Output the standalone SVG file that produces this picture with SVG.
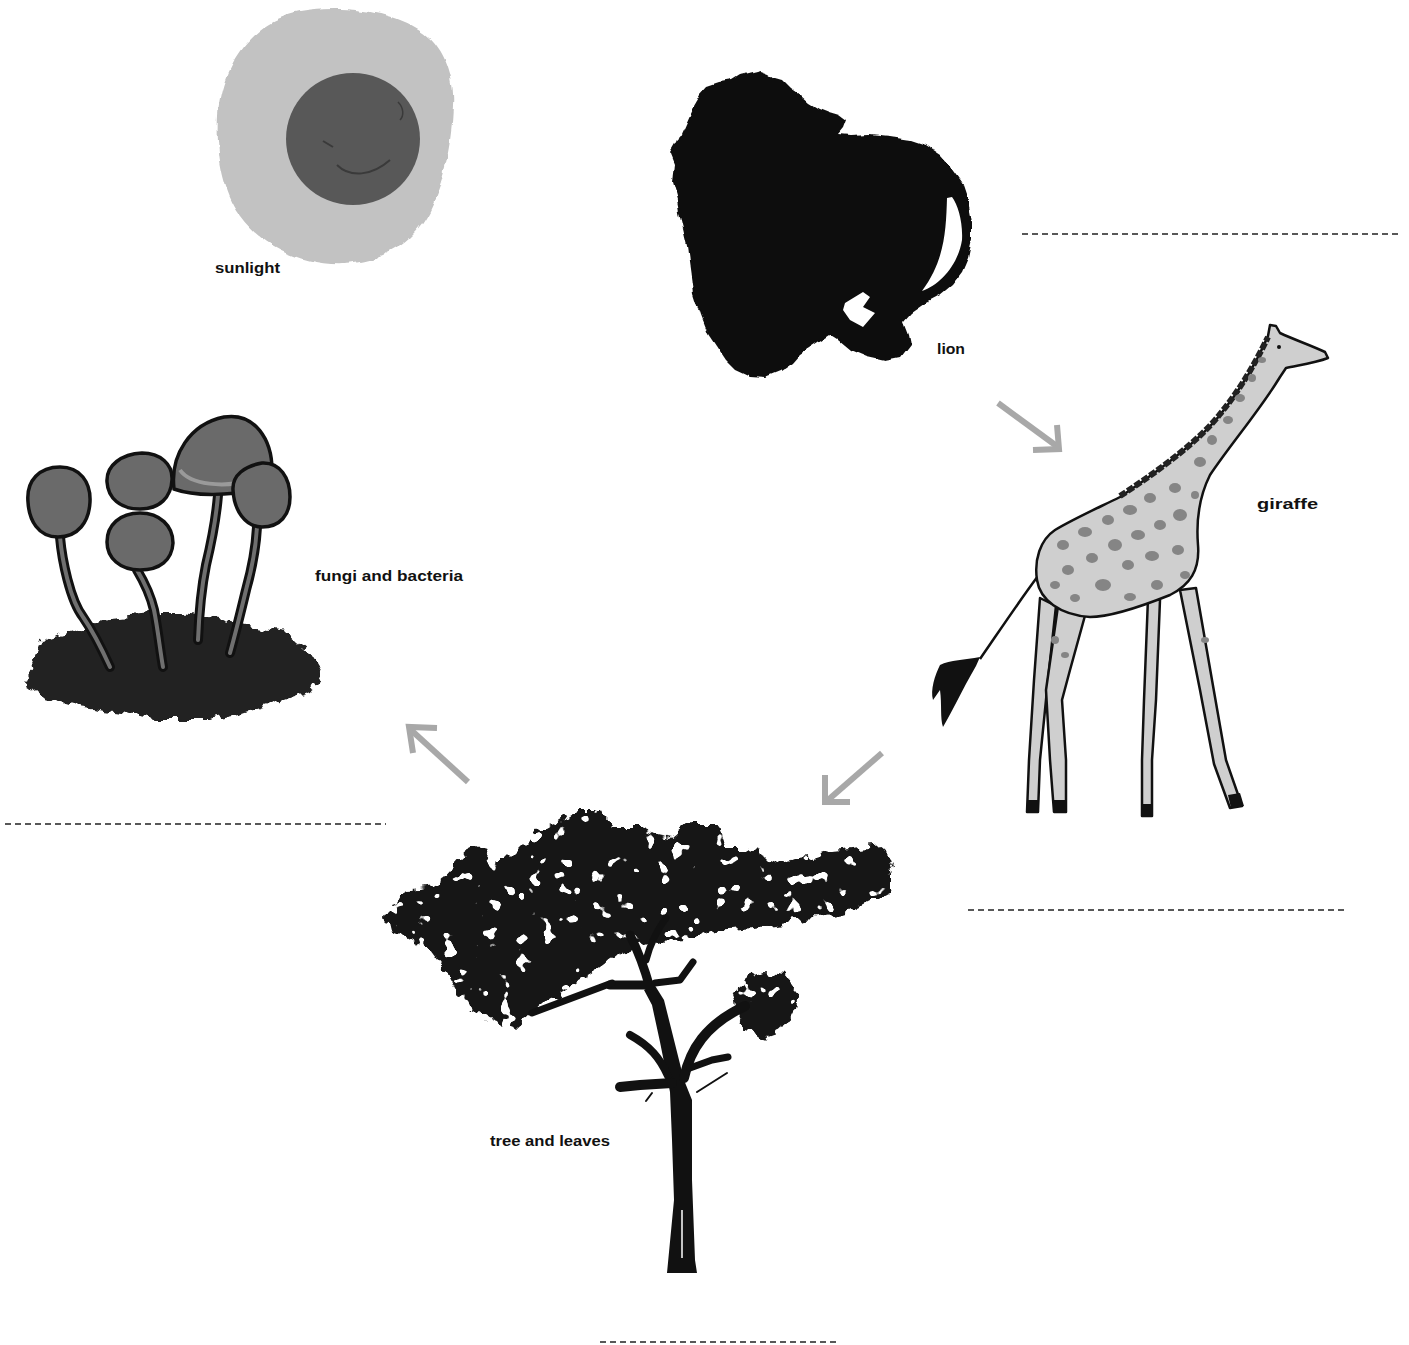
<svg xmlns="http://www.w3.org/2000/svg" width="1409" height="1345" viewBox="0 0 1409 1345">
  <style>
    .lbl { font-family: "Liberation Sans", Arial, sans-serif; font-weight: bold; font-size: 15px; fill: #111; }
    .dash { stroke: #222; stroke-width: 1.6; stroke-dasharray: 6 4; fill: none; }
    .arrow { stroke: #a8a8a8; stroke-width: 6; fill: none; stroke-linecap: butt; stroke-linejoin: miter; }
    .ink { fill: #111; }
    .cap { fill: #6a6a6a; stroke: #111; stroke-width: 3.5; }
    .stemOut { stroke: #111; stroke-width: 10; fill: none; stroke-linecap: round; }
    .stemIn { stroke: #6f6f6f; stroke-width: 4; fill: none; stroke-linecap: round; }
    .branch { stroke: #111; fill: none; stroke-linecap: round; stroke-linejoin: round; }
    .hide { fill: #cfcfcf; stroke: #111; stroke-width: 2.5; stroke-linejoin: round; }
    .spot { fill: #858585; }
  </style>
  <defs>
    <!-- ragged, leafy edge with small gaps for the foliage -->
    <filter id="leafy" x="-10%" y="-10%" width="120%" height="120%">
      <feTurbulence type="fractalNoise" baseFrequency="0.09" numOctaves="2" seed="4" result="n"/>
      <feDisplacementMap in="SourceGraphic" in2="n" scale="16" xChannelSelector="R" yChannelSelector="G" result="d"/>
      <feTurbulence type="fractalNoise" baseFrequency="0.07" numOctaves="2" seed="11" result="t"/>
      <feColorMatrix in="t" type="matrix" values="0 0 0 0 0  0 0 0 0 0  0 0 0 0 0  30 0 0 0 -19.8" result="holes"/>
      <feComposite in="d" in2="holes" operator="out"/>
    </filter>
    <filter id="ragged" x="-10%" y="-10%" width="120%" height="120%">
      <feTurbulence type="fractalNoise" baseFrequency="0.09" numOctaves="2" seed="4" result="n"/>
      <feDisplacementMap in="SourceGraphic" in2="n" scale="16" xChannelSelector="R" yChannelSelector="G"/>
    </filter>
    <filter id="rough" x="-10%" y="-10%" width="120%" height="120%">
      <feTurbulence type="fractalNoise" baseFrequency="0.05" numOctaves="2" seed="7" result="n"/>
      <feDisplacementMap in="SourceGraphic" in2="n" scale="8" xChannelSelector="R" yChannelSelector="G"/>
    </filter>
  </defs>

  <rect width="1409" height="1345" fill="#fff"/>

  <!-- answer lines -->
  <g id="blanks">
    <line class="dash" x1="1022" y1="234" x2="1400" y2="234"/>
    <line class="dash" x1="5" y1="824" x2="386" y2="824"/>
    <line class="dash" x1="968" y1="910" x2="1346" y2="910"/>
    <line class="dash" x1="600" y1="1342" x2="838" y2="1342"/>
  </g>

  <!-- sun -->
  <g id="sunlight">
    <path d="M300,12 C340,5 390,10 420,30 C445,45 455,80 453,105 C452,140 445,180 430,210 C415,240 385,262 345,264 C300,266 262,245 240,215 C222,190 216,150 218,115 C220,80 235,50 260,30 C272,20 285,15 300,12 Z" fill="#c2c2c2" filter="url(#rough)"/>
    <ellipse cx="353" cy="139" rx="67" ry="66" fill="#585858"/>
    <path d="M323,141 L333,147" stroke="#3a3a3a" stroke-width="2" fill="none"/>
    <path d="M337,165 C350,178 372,176 390,160" stroke="#3a3a3a" stroke-width="2" fill="none"/>
    <path d="M398,102 C404,108 404,116 400,120" stroke="#3a3a3a" stroke-width="1.5" fill="none"/>
    <text class="lbl" x="215" y="273" textLength="65" lengthAdjust="spacingAndGlyphs">sunlight</text>
  </g>

  <!-- lion silhouette -->
  <g id="lion">
    <path class="ink" filter="url(#rough)" d="M693,107 L700,95 L708,86 L720,82 L732,80 L740,75 L752,72 L760,70 L768,73 L775,78 L782,80 L790,88 L800,95 L808,102 L818,108 L828,112 L838,115 L846,121 L843,129 L838,135 L850,136 L870,135 L890,137 L910,140 L925,145 L940,155 L952,168 L962,182 L968,200 L972,220 L972,240 L968,258 L962,272 L952,285 L940,295 L925,303 L912,312 L903,322 L908,335 L910,345 L900,358 L885,361 L867,357 L850,350 L838,340 L830,335 L815,345 L800,355 L793,363 L780,372 L765,378 L750,377 L735,370 L725,360 L715,345 L707,333 L700,315 L693,293 L690,270 L687,247 L683,230 L680,217 L677,200 L672,182 L674,165 L670,155 L677,143 L685,125 Z"/>
    <path d="M947,198 C946,230 945,260 922,291 C940,285 958,265 962,240 C963,222 958,205 952,197 Z" fill="#fff"/>
    <polygon points="845,303 863,292 870,297 863,307 875,313 863,327 850,320 843,310" fill="#fff"/>
    <text class="lbl" x="937" y="354" textLength="28" lengthAdjust="spacingAndGlyphs">lion</text>
  </g>

  <!-- giraffe -->
  <g id="giraffe">
    <!-- tail -->
    <path d="M1038,576 C1020,600 1000,630 980,659" stroke="#111" stroke-width="2.5" fill="none"/>
    <path d="M980,657 C965,660 950,660 940,665 C935,675 930,690 933,700 L940,690 C942,705 940,718 943,727 C952,712 962,690 976,666 Z" class="ink"/>
    <!-- legs -->
    <path class="hide" d="M1040,598 L1056,606 L1048,680 L1040,760 L1038,812 L1027,812 L1029,760 L1034,680 Z"/>
    <path class="hide" d="M1058,606 L1086,612 L1070,670 L1062,700 L1066,760 L1066,812 L1054,812 L1050,760 L1046,690 Z"/>
    <path class="hide" d="M1148,598 L1160,600 L1156,700 L1152,760 L1152,816 L1142,816 L1142,760 L1144,700 Z"/>
    <path class="hide" d="M1180,590 L1196,588 L1212,680 L1226,760 L1242,806 L1230,808 L1214,764 L1200,690 Z"/>
    <!-- hooves -->
    <rect x="1027" y="800" width="11" height="13" class="ink"/>
    <rect x="1054" y="800" width="12" height="13" class="ink"/>
    <rect x="1142" y="804" width="10" height="13" class="ink"/>
    <path d="M1228,795 L1240,793 L1244,806 L1231,808 Z" class="ink"/>
    <!-- body, neck and head -->
    <path class="hide" d="M1120,497 C1160,470 1200,440 1220,415 C1240,390 1258,360 1268,336 L1270,325 L1276,326 L1280,333 C1295,340 1310,345 1325,352 L1328,358 C1315,363 1300,365 1286,368 L1280,377 C1260,410 1230,445 1210,475 C1200,495 1196,520 1198,545 C1200,570 1190,585 1170,595 C1140,607 1110,617 1090,617 C1060,615 1040,600 1037,580 C1034,560 1040,540 1055,530 C1075,518 1100,507 1120,497 Z"/>
    <!-- mane -->
    <path d="M1120,496 C1160,470 1200,440 1220,414 C1240,390 1256,362 1268,337" stroke="#222" stroke-width="6" fill="none" stroke-dasharray="7 2"/>
    <!-- spots -->
    <g class="spot">
      <ellipse cx="1063" cy="545" rx="6" ry="5"/>
      <ellipse cx="1085" cy="532" rx="7" ry="5"/>
      <ellipse cx="1108" cy="520" rx="6" ry="5"/>
      <ellipse cx="1130" cy="510" rx="7" ry="5"/>
      <ellipse cx="1150" cy="498" rx="6" ry="5"/>
      <ellipse cx="1175" cy="488" rx="6" ry="5"/>
      <ellipse cx="1180" cy="515" rx="7" ry="6"/>
      <ellipse cx="1160" cy="525" rx="6" ry="5"/>
      <ellipse cx="1138" cy="535" rx="7" ry="5"/>
      <ellipse cx="1115" cy="545" rx="7" ry="6"/>
      <ellipse cx="1092" cy="558" rx="6" ry="5"/>
      <ellipse cx="1068" cy="570" rx="6" ry="5"/>
      <ellipse cx="1103" cy="585" rx="8" ry="6"/>
      <ellipse cx="1128" cy="565" rx="6" ry="5"/>
      <ellipse cx="1152" cy="556" rx="7" ry="5"/>
      <ellipse cx="1178" cy="550" rx="6" ry="5"/>
      <ellipse cx="1185" cy="575" rx="5" ry="4"/>
      <ellipse cx="1157" cy="585" rx="6" ry="5"/>
      <ellipse cx="1130" cy="597" rx="6" ry="4"/>
      <ellipse cx="1075" cy="598" rx="5" ry="4"/>
      <ellipse cx="1055" cy="585" rx="5" ry="4"/>
      <ellipse cx="1200" cy="462" rx="6" ry="5"/>
      <ellipse cx="1212" cy="440" rx="5" ry="5"/>
      <ellipse cx="1228" cy="420" rx="5" ry="4"/>
      <ellipse cx="1240" cy="398" rx="5" ry="4"/>
      <ellipse cx="1252" cy="378" rx="4" ry="4"/>
      <ellipse cx="1262" cy="360" rx="4" ry="3"/>
      <ellipse cx="1195" cy="495" rx="4" ry="4"/>
      <ellipse cx="1055" cy="640" rx="4" ry="4"/>
      <ellipse cx="1065" cy="655" rx="4" ry="3"/>
      <ellipse cx="1205" cy="640" rx="4" ry="3"/>
    </g>
    <circle cx="1279" cy="347" r="2" fill="#111"/>
    <text class="lbl" x="1257" y="509" textLength="61" lengthAdjust="spacingAndGlyphs">giraffe</text>
  </g>

  <!-- mushrooms on moss -->
  <g id="fungi">
    <path d="M25,683 L43,640 L77,630 L110,617 L150,613 L183,613 L223,620 L250,627 L287,633 L310,653 L322,673 L310,690 L283,700 L243,713 L210,720 L160,720 L120,713 L77,707 L43,697 Z" fill="#222" filter="url(#ragged)"/>
    <path class="stemOut" d="M60,537 C62,560 70,600 83,617 C92,630 100,645 110,667"/>
    <path class="stemIn" d="M60,537 C62,560 70,600 83,617 C92,630 100,645 110,667"/>
    <path class="stemOut" d="M137,570 C143,580 150,593 154,610 C158,630 160,650 163,667"/>
    <path class="stemIn" d="M137,570 C143,580 150,593 154,610 C158,630 160,650 163,667"/>
    <path class="stemOut" d="M218,495 C216,520 212,540 206,565 C201,590 199,615 198,640"/>
    <path class="stemIn" d="M218,495 C216,520 212,540 206,565 C201,590 199,615 198,640"/>
    <path class="stemOut" d="M257,527 C256,545 253,565 246,590 C240,615 235,635 230,653"/>
    <path class="stemIn" d="M257,527 C256,545 253,565 246,590 C240,615 235,635 230,653"/>
    <path class="cap" d="M28,502 C26,480 40,467 60,467 C80,467 91,482 90,502 C89,522 78,537 58,537 C38,537 29,520 28,502 Z"/>
    <path class="cap" d="M107,482 C106,465 122,454 142,453 C160,453 173,464 172,480 C171,497 160,509 140,509 C120,509 108,498 107,482 Z"/>
    <path class="cap" d="M107,542 C107,525 120,513 140,513 C160,513 173,526 173,543 C172,560 160,570 140,570 C120,570 107,558 107,542 Z"/>
    <path class="cap" d="M174,489 C170,455 190,424 224,417 C255,412 272,440 272,470 C272,481 266,488 255,490 C230,495 196,497 174,489 Z"/>
    <path d="M180,470 C190,485 225,488 250,480" stroke="#9a9a9a" stroke-width="4" fill="none"/>
    <path class="cap" d="M233,490 C232,475 245,466 262,463 C280,462 290,478 290,497 C290,515 280,527 262,527 C245,527 234,510 233,490 Z"/>
    <text class="lbl" x="315" y="581" textLength="148" lengthAdjust="spacingAndGlyphs">fungi and bacteria</text>
  </g>

  <!-- acacia tree -->
  <g id="tree">
    <path d="M387,917 L400,897 L413,890 L433,887 L460,857 L480,847 L490,860 L507,860 L537,830 L560,823 L580,810 L600,810 L613,827 L640,827 L653,833 L673,837 L690,823 L717,823 L727,850 L747,850 L780,863 L813,857 L833,850 L860,847 L883,845 L892,870 L892,890 L873,900 L847,913 L823,917 L797,920 L757,927 L713,930 L697,937 L660,940 L630,950 L613,957 L587,977 L567,990 L527,1017 L513,1030 L487,1020 L463,1003 L447,973 L430,950 L407,937 L390,930 Z" fill="#151515" filter="url(#leafy)"/>
    <path d="M733,1000 L745,980 L765,972 L785,975 L797,990 L795,1010 L785,1030 L765,1037 L745,1030 L735,1015 Z" fill="#151515" filter="url(#leafy)"/>
    <!-- trunk -->
    <path class="ink" d="M667,1273 L674,1200 L672,1140 L670,1092 L660,1042 L652,1005 L644,990 L654,984 L664,1000 L674,1040 L684,1080 L692,1100 L692,1180 L695,1260 L697,1273 Z"/>
    <!-- branches -->
    <path class="branch" stroke-width="9" d="M650,988 C645,970 640,955 630,935"/>
    <path class="branch" stroke-width="7" d="M646,960 C650,945 657,930 666,918"/>
    <path class="branch" stroke-width="9" d="M650,985 L610,985"/>
    <path class="branch" stroke-width="7" d="M612,983 L532,1013"/>
    <path class="branch" stroke-width="7" d="M655,983 L680,980 L693,962"/>
    <path class="branch" stroke-width="10" d="M684,1078 C690,1050 705,1025 745,1006"/>
    <path class="branch" stroke-width="8" d="M668,1076 C660,1058 650,1046 630,1035"/>
    <path class="branch" stroke-width="10" d="M672,1083 L640,1085 L620,1087"/>
    <path class="branch" stroke-width="7" d="M690,1068 L712,1060 L728,1057"/>
    <path class="branch" stroke-width="2" d="M697,1092 L727,1073"/>
    <path class="branch" stroke-width="2" d="M652,1093 L646,1101"/>
    <path d="M682,1210 L682,1258" stroke="#fff" stroke-width="1.5"/>
    <text class="lbl" x="490" y="1146" textLength="120" lengthAdjust="spacingAndGlyphs">tree and leaves</text>
  </g>

  <!-- arrows between the organisms -->
  <g id="connectors">
    <g class="arrow">
      <path d="M998,403 L1058,447"/>
      <path d="M1057,425 L1059,449 L1033,450"/>
    </g>
    <g class="arrow">
      <path d="M882,753 L828,800"/>
      <path d="M825,775 L825,802 L850,802"/>
    </g>
    <g class="arrow">
      <path d="M468,782 L411,730"/>
      <path d="M437,728 L409,727 L413,753"/>
    </g>
  </g>
</svg>
